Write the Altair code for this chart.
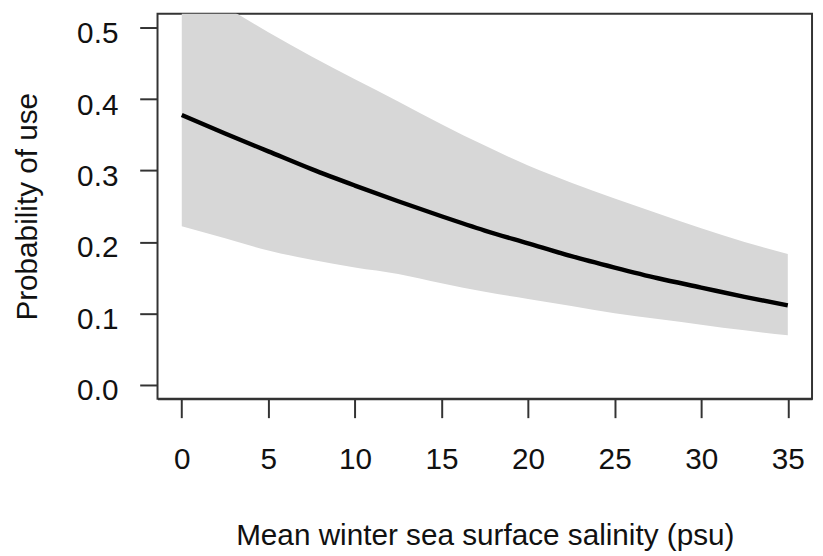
import altair as alt
import pandas as pd

# Mean winter sea surface salinity (psu)
salinity = [0, 2.5, 5, 7.5, 10, 12.5, 15, 17.5, 20, 22.5, 25, 27.5, 30, 32.5, 35]
# fitted probability of use
prob = [0.378, 0.352, 0.327, 0.302, 0.279, 0.257, 0.236, 0.216, 0.198, 0.180,
        0.164, 0.149, 0.136, 0.123, 0.111]
# confidence band
lower = [0.222, 0.205, 0.188, 0.175, 0.164, 0.155, 0.142, 0.130, 0.120, 0.110,
         0.100, 0.092, 0.084, 0.076, 0.069]
upper = [0.565, 0.530, 0.494, 0.460, 0.428, 0.397, 0.365, 0.335, 0.307, 0.283,
         0.261, 0.240, 0.219, 0.200, 0.183]

x_ticks = [0, 5, 10, 15, 20, 25, 30, 35]
y_ticks = [0.0, 0.1, 0.2, 0.3, 0.4, 0.5]

df = pd.DataFrame({"sal": salinity, "p": prob, "lo": lower, "hi": upper})

FONT = "Liberation Sans"
W, H = 661, 389

x_enc = alt.X(
    "sal:Q",
    scale=alt.Scale(domain=[-1.4, 36.4], nice=False, zero=False),
    axis=alt.Axis(
        values=x_ticks, format="d", grid=False, domain=True, domainColor="#333",
        domainWidth=2, ticks=True, tickSize=19, tickWidth=2, tickColor="#333",
        labelFontSize=30, labelFont=FONT, labelColor="#111", labelPadding=27,
        labelFlush=False, labelOverlap=False,
        title="Mean winter sea surface salinity (psu)",
        titleFont=FONT, titleFontSize=30, titleFontWeight="normal", titleColor="#111",
        titleBaseline="alphabetic", titleY=147, titleX=W / 2,
    ),
)

y_scale = alt.Scale(domain=[-0.02, 0.52], nice=False, zero=False)
y_axis = alt.Axis(
    values=y_ticks, format=".1f", grid=False, domain=False,
    ticks=True, tickSize=18, tickWidth=2, tickColor="#333",
    labelFontSize=30, labelFont=FONT, labelColor="#111", labelPadding=22,
    labelBaseline="alphabetic", labelOffset=15, labelFlush=False, labelOverlap=False,
    title="Probability of use",
    titleFont=FONT, titleFontSize=30, titleFontWeight="normal", titleColor="#111",
    titleBaseline="alphabetic", titleX=-122, titleY=H / 2, titleAngle=270,
)

band = alt.Chart(df).mark_area(color="#D7D7D7", clip=True, interpolate="monotone").encode(
    x=x_enc,
    y=alt.Y("lo:Q", scale=y_scale, axis=y_axis),
    y2="hi:Q",
)

line = alt.Chart(df).mark_line(color="black", strokeWidth=4.5, interpolate="monotone").encode(
    x=alt.X("sal:Q"),
    y=alt.Y("p:Q"),
)

chart = (
    alt.layer(band, line)
    .properties(
        width=W, height=H,
        autosize=alt.AutoSizeParams(type="none"),
        padding={"left": 151, "top": 3, "right": 3, "bottom": 156},
        background="white",
    )
    .configure_view(stroke="#333", strokeWidth=2)
)

chart.save("out.html", embed_options={"renderer": "svg", "actions": False})
